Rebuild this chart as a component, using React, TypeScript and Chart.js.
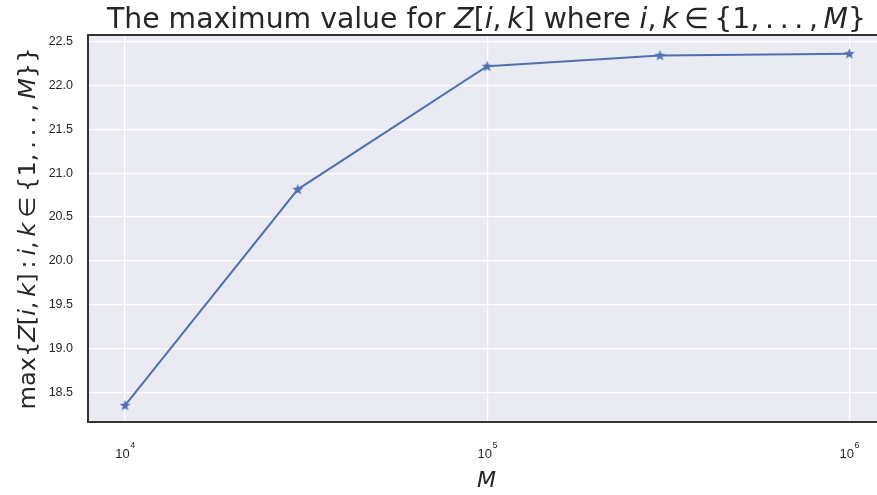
import React, { useEffect, useRef } from "react";
import { Chart, registerables } from "chart.js";

Chart.register(...registerables);

// ---- data ----
const mValues = [10000, 30000, 100000, 300000, 1000000];
const maxZ = [18.356, 20.815, 22.216, 22.34, 22.36];
const yTicks = [18.5, 19.0, 19.5, 20.0, 20.5, 21.0, 21.5, 22.0, 22.5];
const xTickValues = [10000, 100000, 1000000];
const xTickBase = "10";
const xTickExponents = ["4", "5", "6"];
const xLabel = "M";
// [text, italic]
const titleSegs: [string, boolean][] = [
  ["The maximum value for ", false],
  ["Z", true],
  ["[", false],
  ["i", true],
  [",\u2009", false],
  ["k", true],
  ["]", false],
  [" where ", false],
  ["i", true],
  [",\u2009", false],
  ["k", true],
  ["\u2009\u2208\u2009", false],
  ["{1,\u2009.\u2009.\u2009.\u2009,\u2009", false],
  ["M", true],
  ["}", false],
];
const yLabelSegs: [string, boolean][] = [
  ["max{", false],
  ["Z", true],
  ["[", false],
  ["i", true],
  [",\u2009", false],
  ["k", true],
  ["]\u2009:\u2009", false],
  ["i", true],
  [",\u2009", false],
  ["k", true],
  ["\u2009\u2208\u2009", false],
  ["{1,\u2009.\u2009.\u2009.\u2009,\u2009", false],
  ["M", true],
  ["}}", false],
];

const TEXT = "#262626";
const LINE = "#4C72B0";
const FAMILY = '"DejaVu Sans"';

function drawRich(
  ctx: CanvasRenderingContext2D,
  segs: [string, boolean][],
  cx: number,
  cy: number,
  size: number,
  targetWidth: number,
  rotate: number
) {
  let w = 0;
  const parts = segs.map(([t, it]) => {
    ctx.font = `${it ? "italic " : ""}${size}px ${FAMILY}`;
    const m = ctx.measureText(t).width;
    const p = { t, it, x: w };
    w += m;
    return p;
  });
  const sx = targetWidth / w;
  ctx.save();
  ctx.translate(cx, cy);
  ctx.rotate(rotate);
  ctx.scale(sx, 1);
  ctx.fillStyle = TEXT;
  ctx.textBaseline = "alphabetic";
  ctx.textAlign = "left";
  for (const p of parts) {
    ctx.font = `${p.it ? "italic " : ""}${size}px ${FAMILY}`;
    ctx.fillText(p.t, p.x - w / 2, 0);
  }
  ctx.restore();
}

function makeStar(): HTMLCanvasElement {
  const c = document.createElement("canvas");
  c.width = 13;
  c.height = 13;
  const g = c.getContext("2d")!;
  g.fillStyle = LINE;
  g.beginPath();
  const R = 5.8, r = 2.4, cx = 6.5, cy = 6.8;
  for (let i = 0; i < 10; i++) {
    const a = -Math.PI / 2 + (i * Math.PI) / 5;
    const rad = i % 2 === 0 ? R : r;
    const px = cx + rad * Math.cos(a);
    const py = cy + rad * Math.sin(a);
    if (i === 0) g.moveTo(px, py);
    else g.lineTo(px, py);
  }
  g.closePath();
  g.fill();
  return c;
}

const decor = {
  id: "decor",
  beforeDraw(chart: any) {
    const { ctx, chartArea: a } = chart;
    ctx.save();
    ctx.fillStyle = "#EAEAF2";
    ctx.fillRect(a.left, a.top, a.right - a.left, a.bottom - a.top);
    ctx.restore();
  },
  afterDraw(chart: any) {
    const { ctx, chartArea: a } = chart;
    const xs = chart.scales.x;
    ctx.save();
    // top spine
    ctx.strokeStyle = "#333333";
    ctx.lineWidth = 2;
    ctx.beginPath();
    ctx.moveTo(a.left - 1, a.top);
    ctx.lineTo(a.right, a.top);
    ctx.stroke();
    // x tick labels 10^n
    ctx.fillStyle = TEXT;
    ctx.textBaseline = "alphabetic";
    xTickValues.forEach((v, i) => {
      const px = xs.getPixelForValue(v);
      ctx.font = `13px "Liberation Sans"`;
      const bw = ctx.measureText(xTickBase).width;
      ctx.font = `9px "Liberation Sans"`;
      const ew = ctx.measureText(xTickExponents[i]).width;
      const left = px - (bw + ew) / 2;
      ctx.font = `13px "Liberation Sans"`;
      ctx.textAlign = "left";
      ctx.fillText(xTickBase, left, a.bottom + 36);
      ctx.font = `9px "Liberation Sans"`;
      ctx.fillText(xTickExponents[i], left + bw + 0.5, a.bottom + 26);
    });
    // x label
    ctx.font = `italic 22px ${FAMILY}`;
    ctx.textAlign = "center";
    ctx.fillText(xLabel, (a.left + a.right) / 2, a.bottom + 65);
    ctx.restore();
    // title
    drawRich(ctx, titleSegs, (a.left + a.right) / 2, 28, 29, 759, 0);
    // y label
    drawRich(ctx, yLabelSegs, 35, (a.top + a.bottom) / 2, 23, 362, -Math.PI / 2);
  },
};

export default function App() {
  const ref = useRef<HTMLCanvasElement | null>(null);
  useEffect(() => {
    const star = makeStar();
    const chart = new Chart(ref.current!, {
      type: "line",
      data: {
        datasets: [
          {
            data: mValues.map((m, i) => ({ x: m, y: maxZ[i] })),
            borderColor: LINE,
            backgroundColor: LINE,
            borderWidth: 2,
            tension: 0,
            fill: false,
            pointStyle: star as any,
            pointRadius: 6,
            clip: false as any,
          },
        ],
      },
      options: {
        responsive: false,
        devicePixelRatio: 1,
        animation: false,
        layout: { padding: { top: 35, right: 15, left: 0, bottom: 0 } },
        plugins: { legend: { display: false }, tooltip: { enabled: false }, title: { display: false } },
        scales: {
          x: {
            type: "logarithmic",
            min: 7902,
            max: 1254500,
            bounds: "data",
            afterBuildTicks: (s: any) => {
              s.ticks = xTickValues.map((v) => ({ value: v }));
            },
            afterFit: (s: any) => {
              s.height = 73;
            },
            ticks: { display: false },
            grid: { color: "#ffffff", lineWidth: 1.2, drawTicks: false },
            border: { display: true, color: "#333333", width: 2 },
          },
          y: {
            type: "linear",
            min: 18.167,
            max: 22.572,
            bounds: "data",
            afterBuildTicks: (s: any) => {
              s.ticks = yTicks.map((v) => ({ value: v }));
            },
            afterFit: (s: any) => {
              s.width = 88;
            },
            ticks: {
              padding: 15,
              color: TEXT,
              font: { family: "Liberation Sans", size: 12.5 },
              callback: (v: any) => Number(v).toFixed(1),
            },
            grid: { color: "#ffffff", lineWidth: 1.2, drawTicks: false },
            border: { display: true, color: "#333333", width: 2 },
          },
        },
      },
      plugins: [decor],
    });
    return () => chart.destroy();
  }, []);
  return (
    <div
      style={{
        position: "fixed",
        left: 0,
        top: 0,
        width: 877,
        height: 495,
        overflow: "hidden",
        background: "#ffffff",
      }}
    >
      <canvas ref={ref} width={900} height={495} style={{ display: "block" }} />
    </div>
  );
}
